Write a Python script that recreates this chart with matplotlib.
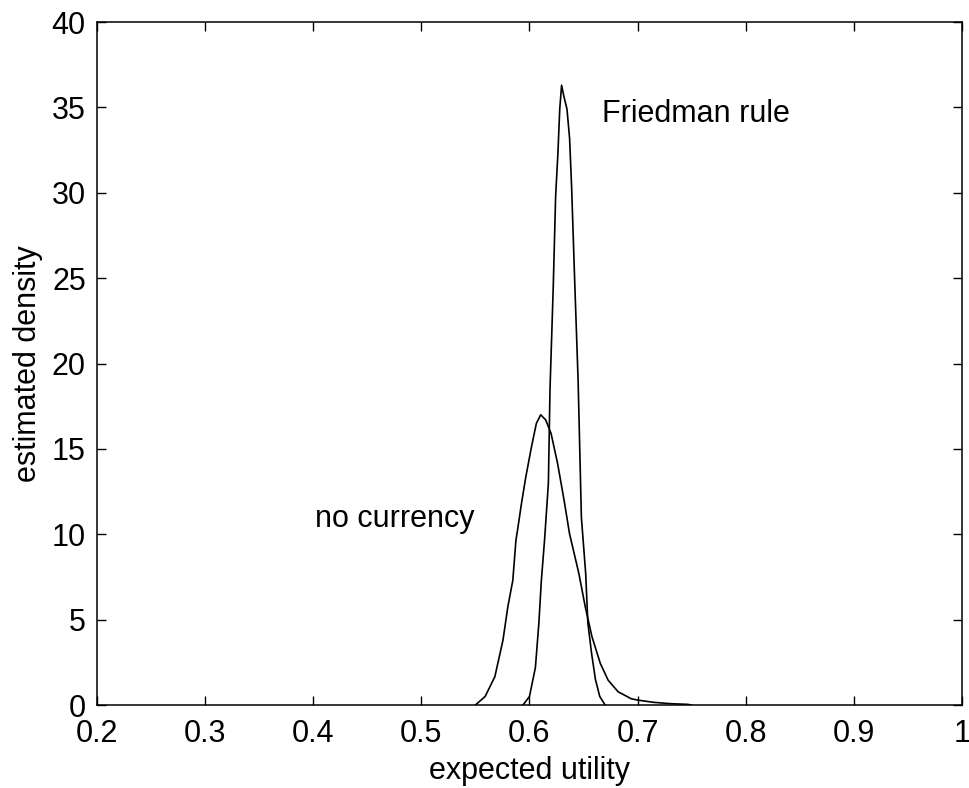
import matplotlib
matplotlib.use('Agg')
import matplotlib.pyplot as plt

# Friedman rule density
fr_x = [0.594, 0.600, 0.6055, 0.6087, 0.611, 0.614, 0.6175, 0.619, 0.622,
        0.6242, 0.6263, 0.628, 0.6297, 0.632, 0.6347, 0.6371, 0.639, 0.642,
        0.645, 0.648, 0.652, 0.654, 0.6575, 0.661, 0.665, 0.670]
fr_y = [0.0, 0.5, 2.2, 4.8, 7.3, 9.7, 13.0, 18.5, 24.5,
        29.8, 32.3, 34.9, 36.3, 35.6, 34.9, 33.2, 30.3, 24.5,
        19.0, 11.0, 7.7, 4.8, 3.0, 1.5, 0.5, 0.0]

# no currency density
nc_x = [0.550, 0.559, 0.568, 0.5755, 0.580, 0.5846, 0.5875, 0.589, 0.5926,
        0.5966, 0.6018, 0.6064, 0.6104, 0.615, 0.620, 0.626, 0.632, 0.637,
        0.6457, 0.6516, 0.6578, 0.6655, 0.6727, 0.6819, 0.694, 0.700,
        0.7144, 0.730, 0.746, 0.750]
nc_y = [0.0, 0.5, 1.66, 3.8, 5.75, 7.3, 9.66, 10.25, 11.8,
        13.35, 15.1, 16.5, 17.0, 16.7, 15.9, 14.15, 12.0, 10.05,
        7.7, 5.75, 4.0, 2.44, 1.46, 0.78, 0.37, 0.29,
        0.16, 0.08, 0.04, 0.0]

x_ticks = [0.2, 0.3, 0.4, 0.5, 0.6, 0.7, 0.8, 0.9, 1.0]
x_ticklabels = ['0.2', '0.3', '0.4', '0.5', '0.6', '0.7', '0.8', '0.9', '1']
y_ticks = [0, 5, 10, 15, 20, 25, 30, 35, 40]

plt.rcParams['font.family'] = ['Liberation Sans', 'DejaVu Sans']
FS = 22

fig = plt.figure(figsize=(9.69, 7.88), dpi=100)
ax = fig.add_axes([0.1, 0.1053, 0.8928, 0.8667])

ax.plot(nc_x, nc_y, color='black', linewidth=1.2)
ax.plot(fr_x, fr_y, color='black', linewidth=1.2)

ax.text(0.667, 34.16, 'Friedman rule', fontsize=FS, ha='left', va='baseline')
ax.text(0.4017, 10.44, 'no currency', fontsize=FS, ha='left', va='baseline')

ax.set_xlim(0.2, 1.0)
ax.set_ylim(0, 40)
ax.set_xticks(x_ticks)
ax.set_xticklabels(x_ticklabels)
ax.set_yticks(y_ticks)
ax.tick_params(direction='in', length=6.5, width=1.0, top=True, right=True,
               labelsize=FS)
ax.tick_params(axis='x', pad=10)
ax.tick_params(axis='y', pad=8)
for s in ax.spines.values():
    s.set_linewidth(1.1)

ax.set_xlabel('expected utility', fontsize=FS, labelpad=5)
ax.set_ylabel('estimated density', fontsize=FS, labelpad=6)

plt.savefig('out.png', dpi=100, facecolor='white')
